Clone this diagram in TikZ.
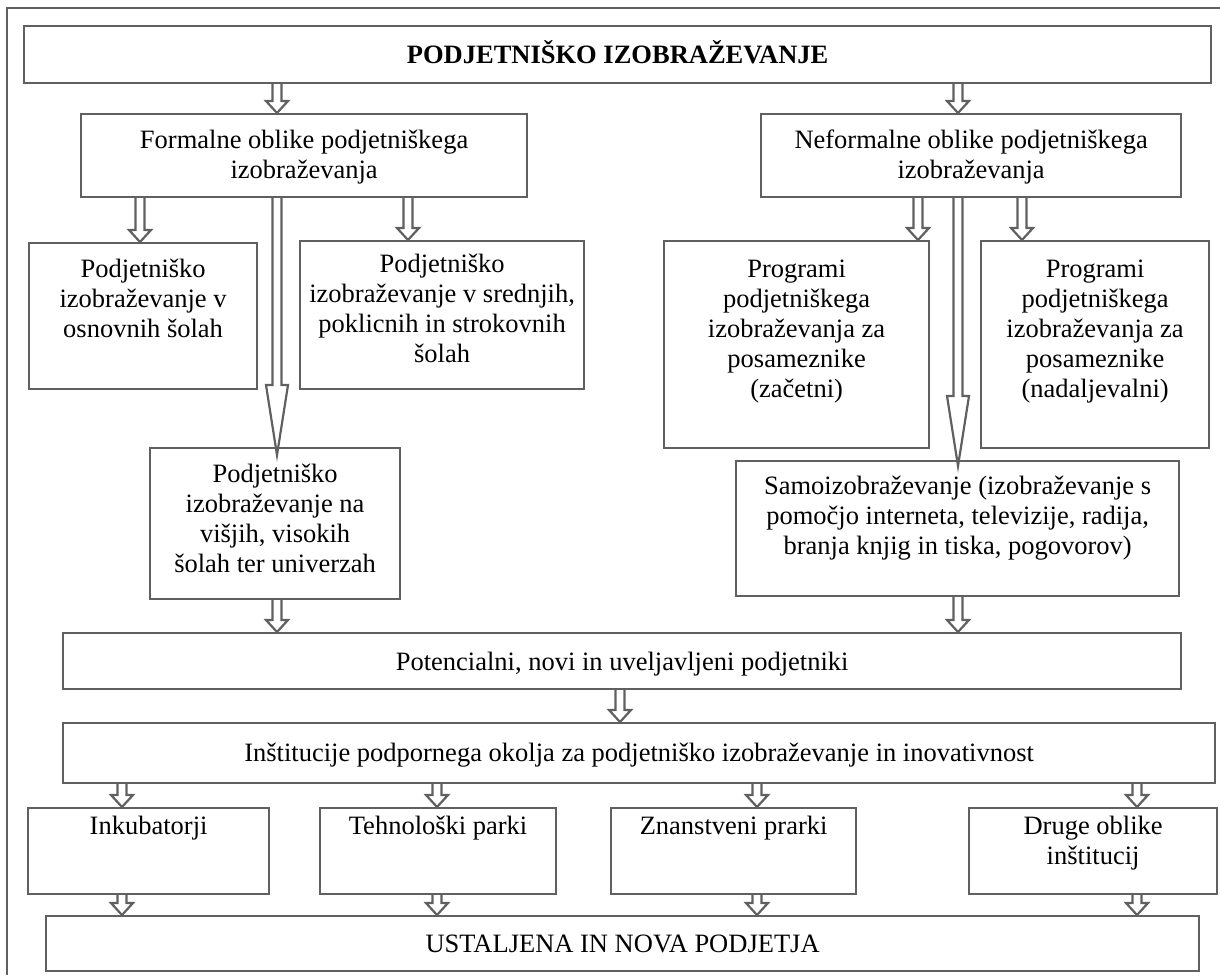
\documentclass[tikz,border=0pt]{standalone}
\usepackage{fontspec}
\setmainfont{Liberation Serif}
\usetikzlibrary{calc}
\newcommand\fs{\fontsize{26.5}{30}\selectfont}
% fixed first-line height, so that text is placed by its first baseline
\newcommand\lnstrut{\rule{0pt}{24pt}}
\definecolor{lc}{RGB}{96,96,96}
\tikzset{
  box/.style={draw=lc, line width=2.2pt, inner sep=0pt, anchor=north west},
  txt/.style={inner sep=0pt, anchor=north, align=center, font=\fs},
  arrw/.style={draw=lc, line width=2.2pt, line join=miter},
}
% box from its top-left and bottom-right corners
\newcommand\mkbox[5]{\node[box, minimum width={#4pt-#2pt}, minimum height={#5pt-#3pt}] (#1) at (#2,#3) {};}
% hollow downward arrow: x, source, target, head length, tip overshoot
\newcommand\hollowdown[5]{%
  \draw[arrw] let \p1=(#2.south), \p2=(#3.north) in
   (#1pt-4.5pt,\y1) -- (#1pt-4.5pt,\y2+#4pt-#5pt) -- (#1pt-11pt,\y2+#4pt-#5pt)
   -- (#1pt,\y2-#5pt) -- (#1pt+11pt,\y2+#4pt-#5pt) -- (#1pt+4.5pt,\y2+#4pt-#5pt)
   -- (#1pt+4.5pt,\y1);}
\begin{document}
\begin{tikzpicture}[x=1pt,y=-1pt]
\useasboundingbox (0,0) rectangle (1220,975);
% outer frame
\draw[draw=lc, line width=2.2pt] (7,975) -- (7,8) -- (1220,8);

% boxes
\mkbox{top}{23}{25}{1210}{82}
\mkbox{formal}{80}{113}{526}{196}
\mkbox{neformal}{760}{113}{1180}{196}
\mkbox{osn}{28}{242}{256}{388}
\mkbox{sre}{299}{240}{583}{388}
\mkbox{vis}{149}{447}{399}{598}
\mkbox{zac}{663}{240}{928}{447}
\mkbox{nad}{980}{240}{1208}{447}
\mkbox{samo}{735}{460}{1178}{595}
\mkbox{pot}{62}{632}{1180}{688}
\mkbox{ins}{62}{722}{1214}{782}
\mkbox{ink}{27}{807}{268}{893}
\mkbox{teh}{319}{807}{555}{893}
\mkbox{zna}{610}{807}{855}{893}
\mkbox{dru}{968}{807}{1216}{893}
\mkbox{ust}{45}{915}{1198}{970}

% texts
\node[txt] (topT) at ([yshift=-14pt]top.north) {\lnstrut\textbf{PODJETNIŠKO IZOBRAŽEVANJE}};
\node[txt] (formalT) at ([yshift=-11pt]formal.north) {\lnstrut Formalne oblike podjetniškega\\izobraževanja};
\node[txt] (neformalT) at ([yshift=-11pt]neformal.north) {\lnstrut Neformalne oblike podjetniškega\\izobraževanja};
\node[txt] (osnT) at ([yshift=-11pt]osn.north) {\lnstrut Podjetniško\\izobraževanje v\\osnovnih šolah};
\node[txt] (sreT) at ([yshift=-8pt]sre.north) {\lnstrut Podjetniško\\izobraževanje v srednjih,\\poklicnih in strokovnih\\šolah};
\node[txt] (visT) at ([yshift=-11pt]vis.north) {\lnstrut Podjetniško\\izobraževanje na\\višjih, visokih\\šolah ter univerzah};
\node[txt] (zacT) at ([yshift=-13pt]zac.north) {\lnstrut Programi\\podjetniškega\\izobraževanja za\\posameznike\\(začetni)};
\node[txt] (nadT) at ([yshift=-13pt]nad.north) {\lnstrut Programi\\podjetniškega\\izobraževanja za\\posameznike\\(nadaljevalni)};
\node[txt] (samoT) at ([yshift=-10pt]samo.north) {\lnstrut Samoizobraževanje (izobraževanje s\\pomočjo interneta, televizije, radija,\\branja knjig in tiska, pogovorov)};
\node[txt] (potT) at ([yshift=-14pt]pot.north) {\lnstrut Potencialni, novi in uveljavljeni podjetniki};
\node[txt] (insT) at ([yshift=-15pt]ins.north) {\lnstrut Inštitucije podpornega okolja za podjetniško izobraževanje in inovativnost};
\node[txt] (inkT) at ([yshift=-3pt]ink.north) {\lnstrut Inkubatorji};
\node[txt] (tehT) at ([yshift=-3pt]teh.north) {\lnstrut Tehnološki parki};
\node[txt] (znaT) at ([yshift=-3pt]zna.north) {\lnstrut Znanstveni prarki};
\node[txt] (druT) at ([yshift=-3pt]dru.north) {\lnstrut Druge oblike\\inštitucij};
\node[txt] (ustT) at ([yshift=-13pt]ust.north) {\lnstrut USTALJENA IN NOVA PODJETJA};

% connectors
\hollowdown{277}{top}{formal}{12}{0}
\hollowdown{958}{top}{neformal}{12}{0}
\hollowdown{140}{formal}{osn}{12}{0}
\hollowdown{408}{formal}{sre}{12}{0}
\hollowdown{277}{formal}{vis}{70}{8}
\hollowdown{918}{neformal}{zac}{12}{0}
\hollowdown{958}{neformal}{samo}{70}{6}
\hollowdown{1022}{neformal}{nad}{12}{0}
\hollowdown{277}{vis}{pot}{12}{0}
\hollowdown{958}{samo}{pot}{12}{0}
\hollowdown{620}{pot}{ins}{12}{0}
\hollowdown{122}{ins}{ink}{12}{0}
\hollowdown{437}{ins}{teh}{12}{0}
\hollowdown{757}{ins}{zna}{12}{0}
\hollowdown{1137}{ins}{dru}{12}{0}
\hollowdown{122}{ink}{ust}{12}{0}
\hollowdown{437}{teh}{ust}{12}{0}
\hollowdown{757}{zna}{ust}{12}{0}
\hollowdown{1137}{dru}{ust}{12}{0}
\end{tikzpicture}
\end{document}
